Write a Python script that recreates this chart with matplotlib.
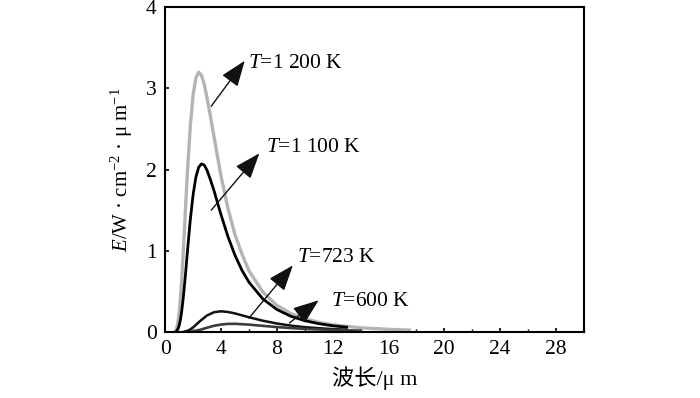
import matplotlib
matplotlib.use("Agg")
import matplotlib.pyplot as plt
from matplotlib.ticker import MultipleLocator

# ---- data ----
wl_1200 = [0.7, 0.8, 0.9, 1.0, 1.1, 1.2, 1.3, 1.4, 1.5, 1.6, 1.8, 2.0, 2.2, 2.4, 2.6, 2.8, 3.0,
           3.25, 3.5, 3.75, 4.0, 4.5, 5.0, 5.5, 6.0, 7.0, 8.0, 9.0, 10.0, 11.0, 12.0, 14.0, 16.0, 17.5]
e_1200 = [0.008, 0.036, 0.104, 0.232, 0.43, 0.69, 1.00, 1.33, 1.67, 1.99, 2.54, 2.92, 3.13, 3.20,
          3.16, 3.05, 2.88, 2.65, 2.40, 2.16, 1.92, 1.52, 1.20, 0.96, 0.755, 0.49, 0.328, 0.227,
          0.162, 0.118, 0.088, 0.051, 0.032, 0.023]

wl_1100 = [0.8, 0.9, 1.0, 1.1, 1.2, 1.3, 1.4, 1.5, 1.6, 1.8, 2.0, 2.2, 2.4, 2.6, 2.8, 3.0, 3.25,
           3.5, 3.75, 4.0, 4.5, 5.0, 5.5, 6.0, 7.0, 8.0, 9.0, 10.0, 11.0, 12.0, 13.0]
e_1100 = [0.009, 0.031, 0.078, 0.16, 0.278, 0.43, 0.61, 0.80, 1.005, 1.383, 1.69, 1.908, 2.028,
          2.07, 2.055, 1.99, 1.87, 1.739, 1.59, 1.444, 1.172, 0.944, 0.76, 0.613, 0.406, 0.277,
          0.193, 0.139, 0.102, 0.076, 0.058]

wl_723 = [1.4, 1.6, 1.8, 2.0, 2.5, 3.0, 3.5, 4.0, 4.5, 5.0, 6.0, 7.0, 8.0, 9.0, 10.0, 11.0, 12.0, 13.0]
e_723 = [0.005, 0.014, 0.031, 0.056, 0.134, 0.203, 0.243, 0.254, 0.246, 0.228, 0.181, 0.138,
         0.104, 0.078, 0.059, 0.046, 0.035, 0.028]

wl_600 = [1.8, 2.0, 2.5, 3.0, 3.5, 4.0, 4.5, 5.0, 6.0, 7.0, 8.0, 9.0, 10.0, 12.0, 14.0]
e_600 = [0.003, 0.007, 0.026, 0.052, 0.076, 0.091, 0.099, 0.100, 0.090, 0.075, 0.060, 0.048,
         0.037, 0.024, 0.016]

labels = ["1 200", "1 100", "723", "600"]
# arrow tail (x, y), arrow tip (x, y), text position (x, y)
arrow_tail = [(3.3, 2.78), (3.3, 1.5), (6.0, 0.17), (8.9, 0.11)]
arrow_tip = [(5.7, 3.34), (6.75, 2.2), (9.15, 0.82), (11.0, 0.39)]
text_pos = [(5.95, 3.31), (7.2, 2.27), (9.45, 0.92), (11.9, 0.37)]

xticks = [0, 4, 8, 12, 16, 20, 24, 28]
yticks = [0, 1, 2, 3, 4]

serif = ["Liberation Serif", "DejaVu Serif"]
plt.rcParams["font.family"] = serif
plt.rcParams["mathtext.fontset"] = "custom"
plt.rcParams["mathtext.rm"] = "Liberation Serif"
plt.rcParams["mathtext.it"] = "Liberation Serif:italic"

fig = plt.figure(figsize=(7.0, 3.98), dpi=100)
ax = fig.add_axes([0.236, 0.166, 0.598, 0.816])

ax.plot(wl_1200, e_1200, color="#b4b4b4", lw=2.4)
ax.plot(wl_1100, e_1100, color="#000000", lw=2.0)
ax.plot(wl_723, e_723, color="#111111", lw=1.8)
ax.plot(wl_600, e_600, color="#3c3c3c", lw=1.9)

for lab, tail, tip, tp in zip(labels, arrow_tail, arrow_tip, text_pos):
    ax.annotate("", xy=tip, xytext=tail,
                arrowprops=dict(arrowstyle="-|>,head_length=0.8,head_width=0.3",
                                color="#111111", lw=1.0, mutation_scale=20,
                                shrinkA=0, shrinkB=0))
    ax.text(tp[0], tp[1], "$T$=" + lab + " K", fontsize=15.5, va="center", ha="left")

ax.set_xlim(0, 30)
ax.set_ylim(0, 4)
ax.set_xticks(xticks)
ax.set_yticks(yticks)
ax.xaxis.set_minor_locator(MultipleLocator(2))
ax.tick_params(axis="both", which="major", direction="in", length=3, width=1.2,
               labelsize=15.5, pad=6)
ax.tick_params(axis="both", which="minor", direction="in", length=2, width=1.0)
ax.tick_params(axis="y", which="minor", left=False)
for sp in ax.spines.values():
    sp.set_linewidth(1.5)

ax.set_xlabel("波长/μ m", fontsize=16, family=["Liberation Serif", "Noto Sans CJK SC"],
              labelpad=5)
ax.set_ylabel(r"$E$/W · cm$^{-2}$ · μ m$^{-1}$", fontsize=15, labelpad=8)

fig.savefig("out.png", dpi=100)
